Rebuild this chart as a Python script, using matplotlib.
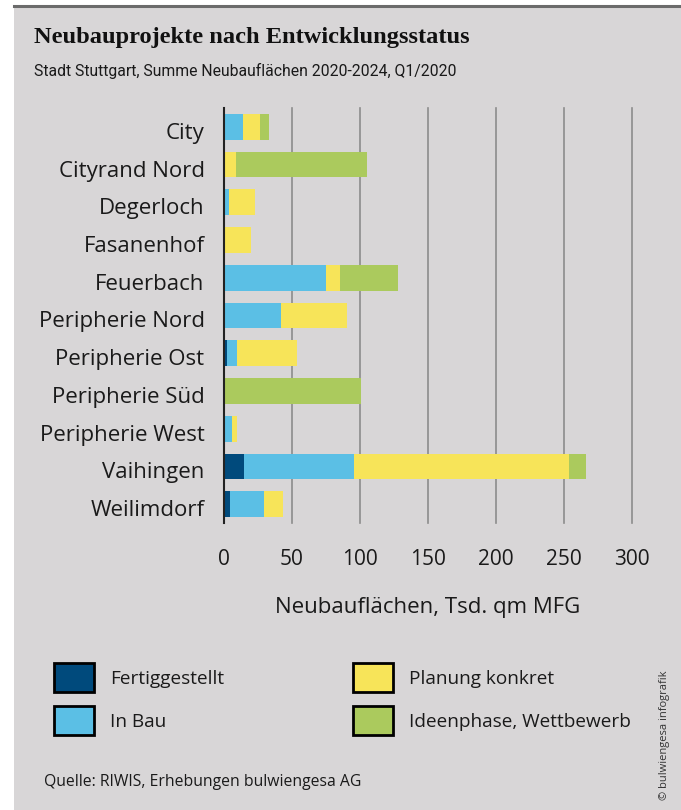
"""Neubauprojekte nach Entwicklungsstatus - gestapelte Balken, Stuttgart Q1/2020."""

import matplotlib

matplotlib.use("Agg")
import matplotlib.pyplot as plt
import matplotlib.transforms as mtransforms
import numpy as np
from matplotlib import font_manager
from matplotlib.patches import Rectangle

districts = [
    "City", "Cityrand Nord", "Degerloch", "Fasanenhof", "Feuerbach",
    "Peripherie Nord", "Peripherie Ost", "Peripherie Süd", "Peripherie West",
    "Vaihingen", "Weilimdorf",
]
fertiggestellt = [0, 0, 0, 0, 0, 0, 2.0, 0, 0, 14.5, 4.2]
in_bau = [13.7, 0, 3.4, 0, 74.8, 41.7, 7.4, 0, 5.6, 80.9, 25.0]
planung_konkret = [12.5, 8.6, 19.6, 19.6, 10.3, 48.5, 44.1, 0, 4.2, 158.1, 14.5]
ideenphase = [6.6, 96.3, 0, 0, 42.6, 0, 0, 100.5, 0, 12.5, 0]

series_names = ["Fertiggestellt", "In Bau", "Planung konkret", "Ideenphase, Wettbewerb"]
series_colors = ["#004a7c", "#5bbfe5", "#f7e459", "#abca5d"]
x_ticks = [0, 50, 100, 150, 200, 250, 300]

BG = "#d8d6d7"
BODY = "Open Sans"

# subtitle in the original is a condensed face; use one if it's around
installed = {f.name for f in font_manager.fontManager.ttflist}
if "Liberation Sans Narrow" in installed:
    SUB_FONT, SUB_SIZE = "Liberation Sans Narrow", 14
else:
    SUB_FONT, SUB_SIZE = "Roboto", 11.3

fig = plt.figure(figsize=(6.81, 8.10), dpi=100, facecolor="white")
# grey panel with dark rule on top
fig.patches.append(Rectangle((14 / 681, 0), 1, 1 - 6 / 810, transform=fig.transFigure,
                             facecolor=BG, edgecolor="none", zorder=-5))
fig.add_artist(plt.Line2D([14 / 681, 1], [1 - 6 / 810, 1 - 6 / 810], color="#6b6b6b", lw=2.2))

ax = fig.add_axes([224 / 681, 1 - 523 / 810, 408 / 681, 415 / 810], zorder=2)
ax.set_facecolor(BG)
ax.patch.set_alpha(0)

y = np.arange(len(districts))
left = np.zeros(len(districts))
for vals, color in zip([fertiggestellt, in_bau, planung_konkret, ideenphase], series_colors):
    ax.barh(y, vals, left=left, height=0.68, color=color, zorder=3)
    left += np.array(vals)

ax.set_ylim(len(districts) - 0.5, -0.5)
ax.set_xlim(0, 300)
ax.set_yticks(y)
ax.set_yticklabels(districts, fontfamily=BODY, fontsize=16, color="#1a1a1a")
ax.set_xticks(x_ticks)
ax.set_xticklabels([str(t) for t in x_ticks], fontfamily=BODY, fontsize=15, color="#1a1a1a")
ax.tick_params(axis="both", length=0)
ax.tick_params(axis="y", pad=14)
ax.tick_params(axis="x", pad=19)
# names sit a touch below the bar centres in the original
shift = mtransforms.ScaledTranslation(0, -4 / 100, fig.dpi_scale_trans)
for lab in ax.get_yticklabels():
    lab.set_transform(lab.get_transform() + shift)
ax.xaxis.grid(True, color="#8c8c8c", lw=1.2, zorder=1)
for gl in ax.get_xgridlines():
    gl.set_clip_on(False)
for side in ["top", "right", "bottom"]:
    ax.spines[side].set_visible(False)
ax.spines["left"].set_color("#222222")
ax.spines["left"].set_linewidth(1.5)
ax.spines["left"].set_zorder(4)
ax.set_xlabel("Neubauflächen, Tsd. qm MFG", fontfamily=BODY, fontsize=16, color="#1a1a1a", labelpad=19)

fig.text(34 / 681, 1 - 38 / 810, "Neubauprojekte nach Entwicklungsstatus", fontfamily="Liberation Serif",
         fontweight="bold", fontsize=17.6, va="center", ha="left", color="#111111")
fig.text(34 / 681, 1 - 71 / 810, "Stadt Stuttgart, Summe Neubauflächen 2020-2024, Q1/2020",
         fontfamily=SUB_FONT, fontsize=SUB_SIZE, va="center", ha="left", color="#1a1a1a")

# legend, two columns
legend_pos = [(54, 678), (54, 721), (353, 678), (353, 721)]
for (lx, ly), name, color in zip(legend_pos, series_names, series_colors):
    fig.patches.append(Rectangle((lx / 681, 1 - (ly + 14) / 810), 40 / 681, 29 / 810,
                                 transform=fig.transFigure, facecolor=color,
                                 edgecolor="black", lw=2))
    fig.text((lx + 56) / 681, 1 - (ly + 1) / 810, name, fontfamily=BODY, fontsize=13.7,
             va="center", ha="left", color="#1a1a1a")

fig.text(44 / 681, 1 - 782 / 810, "Quelle: RIWIS, Erhebungen bulwiengesa AG", fontfamily=BODY,
         fontsize=11.3, va="center", ha="left", color="#1a1a1a")
fig.text(670 / 681, 1 - 800 / 810, "© bulwiengesa infografik", fontfamily=BODY, fontsize=8,
         rotation=90, va="bottom", ha="left", rotation_mode="anchor", color="#333333")

fig.savefig("out.png", dpi=100, facecolor=fig.get_facecolor())
